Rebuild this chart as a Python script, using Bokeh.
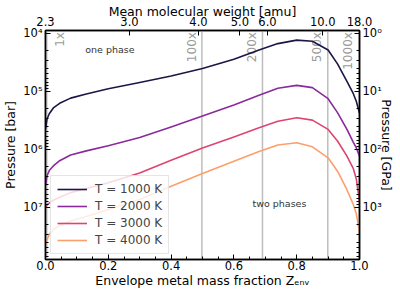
import math

from bokeh.plotting import figure
from bokeh.models import (Range1d, LogScale, LogAxis, LinearAxis, FixedTicker,
                          Legend, LegendItem, Span)
from bokeh.embed import file_html
from bokeh.resources import INLINE

# Envelope metal mass fraction sampled along each critical curve
z_env = [0.0, 0.005, 0.012, 0.025, 0.045, 0.08, 0.13, 0.2, 0.3, 0.4, 0.5,
         0.6, 0.68, 0.74, 0.8, 0.85, 0.9, 0.93, 0.96, 0.98, 0.99, 1.0]

# log10 of the critical (demixing) pressure in bar for each temperature
logp_1000k = [5.65, 5.48, 5.39, 5.29, 5.21, 5.12, 5.05, 4.96, 4.85, 4.74, 4.61,
              4.45, 4.29, 4.18, 4.12, 4.14, 4.29, 4.53, 4.83, 5.04, 5.18, 5.38]
logp_2000k = [6.63, 6.46, 6.37, 6.29, 6.20, 6.10, 6.03, 5.94, 5.80, 5.62, 5.43,
              5.24, 5.07, 4.95, 4.90, 4.94, 5.13, 5.37, 5.66, 5.88, 5.98, 6.12]
logp_3000k = [7.01, 6.96, 6.93, 6.88, 6.83, 6.75, 6.68, 6.58, 6.41, 6.19, 5.98,
              5.79, 5.63, 5.52, 5.46, 5.50, 5.66, 5.86, 6.12, 6.33, 6.52, 6.90]
logp_4000k = [7.66, 7.56, 7.47, 7.39, 7.32, 7.24, 7.16, 7.04, 6.87, 6.64, 6.42,
              6.21, 6.04, 5.93, 5.89, 5.96, 6.15, 6.38, 6.70, 6.95, 7.12, 7.44]

temperatures = [1000, 2000, 3000, 4000]
curve_colors = ["#1c1646", "#8a2a9c", "#de4470", "#fd9f6a"]

# Mean molecular weight of pure H/He and of pure metals (amu), and top-axis ticks
mu_hhe = 2.3
mu_metal = 18.0
mu_ticks = [2.3, 3.0, 4.0, 5.0, 6.0, 10.0, 18.0]

# Envelope enrichment relative to solar, with the Z where each marker sits
enrichment_labels = ["1x", "100x", "200x", "500x", "1000x"]
enrichment_line_z = [0.004, 0.498, 0.691, 0.899]
enrichment_text_z = [0.045, 0.466, 0.657, 0.866, 0.962]

# Pressure axis range (bar) and ticks
p_bottom, p_top = 8e7, 9e3
bar_ticks = [1e4, 1e5, 1e6, 1e7]
gpa_ticks = [1.0, 10.0, 100.0, 1000.0]
x_ticks = [0.0, 0.2, 0.4, 0.6, 0.8, 1.0]

FONT = "DejaVu Sans"
SUP = {0: "\u2070", 1: "\u00b9", 2: "\u00b2", 3: "\u00b3", 4: "\u2074",
       5: "\u2075", 6: "\u2076", 7: "\u2077"}


def power_label(v):
    return "10" + SUP[int(round(math.log10(v)))]


def minor_log_ticks(lo_exp, hi_exp):
    return [m * 10.0 ** k for k in range(lo_exp, hi_exp + 1) for m in range(2, 10)]


def z_from_mu(mu):
    return (1.0 / mu_hhe - 1.0 / mu) / (1.0 / mu_hhe - 1.0 / mu_metal)


p = figure(width=400, height=290,
           min_border_left=42, min_border_right=41,
           min_border_top=29, min_border_bottom=31,
           x_range=Range1d(0, 1), y_range=Range1d(p_bottom, p_top),
           y_axis_type="log", output_backend="svg", toolbar_location=None,
           background_fill_color="white", border_fill_color="white")
p.outline_line_color = "black"
p.outline_line_width = 1.5
p.xgrid.visible = False
p.ygrid.visible = False

p.extra_y_ranges = {"gpa": Range1d(p_bottom / 1e4, p_top / 1e4)}
p.extra_y_scales = {"gpa": LogScale()}


def style_axis(ax, label_standoff=3, title_standoff=3):
    ax.axis_line_color = "black"
    ax.axis_line_width = 1.5
    ax.major_tick_in = 5
    ax.major_tick_out = 0
    ax.minor_tick_in = 3
    ax.minor_tick_out = 0
    ax.major_tick_line_color = "black"
    ax.minor_tick_line_color = "black"
    ax.major_label_text_font = FONT
    ax.major_label_text_font_size = "11.5px"
    ax.major_label_text_color = "black"
    ax.major_label_standoff = label_standoff
    ax.axis_label_text_font = FONT
    ax.axis_label_text_font_size = "12.5px"
    ax.axis_label_text_font_style = "normal"
    ax.axis_label_text_color = "black"
    ax.axis_label_standoff = title_standoff


# bottom axis: metal mass fraction
xa = p.xaxis[0]
xa.ticker = FixedTicker(ticks=x_ticks, minor_ticks=[i * 0.05 for i in range(21)])
xa.major_label_overrides = {t: f"{t:.1f}" for t in x_ticks}
xa.axis_label = "Envelope metal mass fraction Z\u2091\u2099\u1d65"
style_axis(xa, 1, 0)

# left axis: pressure in bar
ya = p.yaxis[0]
ya.ticker = FixedTicker(ticks=bar_ticks, minor_ticks=minor_log_ticks(3, 7))
ya.major_label_overrides = {t: power_label(t) for t in bar_ticks}
ya.axis_label = "Pressure [bar]"
style_axis(ya, 3, 2)

# right axis: pressure in GPa, title reading upwards like the left one
ra = LogAxis(y_range_name="gpa")
ra.ticker = FixedTicker(ticks=gpa_ticks, minor_ticks=minor_log_ticks(-1, 3))
ra.major_label_overrides = {t: power_label(t) for t in gpa_ticks}
ra.axis_label = "Pressure [GPa]"
style_axis(ra, 3, -6)
if hasattr(ra, "axis_label_orientation"):
    ra.axis_label_orientation = "vertical"
p.add_layout(ra, "right")

# top axis: mean molecular weight
ta = LinearAxis()
top_positions = [z_from_mu(m) for m in mu_ticks]
ta.ticker = FixedTicker(ticks=top_positions)
ta.major_label_overrides = {z: f"{m:.1f}" for z, m in zip(top_positions, mu_ticks)}
ta.axis_label = "Mean molecular weight [amu]"
style_axis(ta, 5, -5)
p.add_layout(ta, "above")

# enrichment markers
for z in enrichment_line_z:
    p.add_layout(Span(location=z, dimension="height", line_color="#bdbdbd",
                      line_width=1.5, level="underlay"))
p.text(x=enrichment_text_z, y=[9.6e3] * len(enrichment_text_z),
       text=enrichment_labels, angle=math.pi / 2, text_align="right",
       text_baseline="middle", text_color="#9a9a9a", text_font_size="12px",
       text_font={"value": FONT})

# phase region annotations
p.text(x=[0.205, 0.745], y=[10 ** 4.28, 10 ** 6.94],
       text=["one phase", "two phases"], text_align="center",
       text_baseline="middle", text_color="#333333", text_font_size="9.5px",
       text_font={"value": FONT})

# critical curves
items = []
for T, logp, c in zip(temperatures, [logp_1000k, logp_2000k, logp_3000k, logp_4000k],
                      curve_colors):
    r = p.line(z_env, [10 ** v for v in logp], line_color=c, line_width=1.6,
               line_join="round")
    items.append(LegendItem(label=f"T = {T} K", renderers=[r]))

legend = Legend(items=items, location="bottom_left")
legend.margin = 5
legend.padding = 6
legend.spacing = 3
legend.glyph_width = 30
legend.glyph_height = 14
legend.label_standoff = 8
legend.label_text_font = FONT
legend.label_text_font_size = "12px"
legend.border_line_color = "#cccccc"
legend.border_line_width = 1
legend.background_fill_color = "white"
legend.background_fill_alpha = 0.8
p.add_layout(legend)

open("out.html", "w").write(file_html(p, INLINE))
